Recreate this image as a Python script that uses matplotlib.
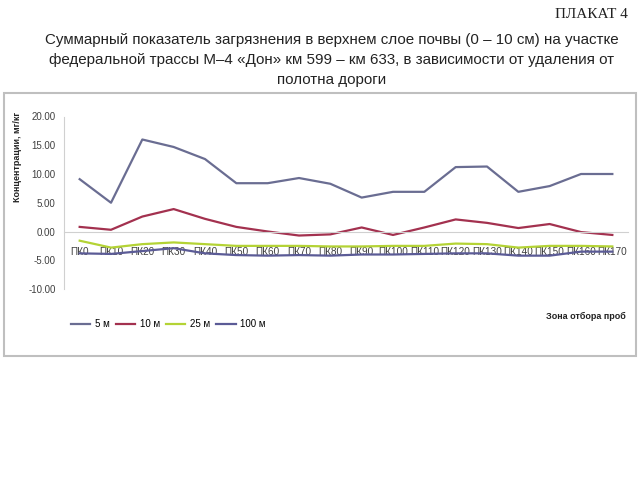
import matplotlib
matplotlib.use("Agg")
import matplotlib.pyplot as plt
from matplotlib.lines import Line2D
from matplotlib.patches import Rectangle

categories = ["ПК0", "ПК10", "ПК20", "ПК30", "ПК40", "ПК50", "ПК60", "ПК70", "ПК80",
              "ПК90", "ПК100", "ПК110", "ПК120", "ПК130", "ПК140", "ПК150", "ПК160", "ПК170"]
s5 = [9.1, 5.0, 16.0, 14.7, 12.6, 8.4, 8.4, 9.3, 8.3, 5.9, 6.9, 6.9, 11.2, 11.3, 6.9, 7.9, 10.0, 10.0]
s10 = [0.8, 0.3, 2.6, 3.9, 2.2, 0.8, 0.0, -0.7, -0.5, 0.7, -0.6, 0.7, 2.1, 1.5, 0.6, 1.3, -0.1, -0.6]
s25 = [-1.6, -2.8, -2.2, -1.9, -2.2, -2.5, -2.5, -2.5, -2.6, -2.6, -2.5, -2.5, -2.1, -2.2, -2.8, -2.5, -2.5, -2.6]
s100 = [-3.8, -3.9, -3.4, -2.9, -3.8, -4.1, -4.2, -4.1, -4.2, -4.0, -4.0, -3.9, -3.8, -3.8, -4.2, -4.2, -3.5, -3.5]
series_names = ["5 м", "10 м", "25 м", "100 м"]
yticks = [20, 15, 10, 5, 0, -5, -10]

colors = ["#6a6d92", "#a3314f", "#b4d335", "#5b5b96"]
sans = ["Liberation Sans", "DejaVu Sans"]

fig = plt.figure(figsize=(6.4, 4.8), dpi=100)

# title block
fig.text(628/640, 1 - 15/480, "ПЛАКАТ 4", ha="right", va="center",
         family=["Liberation Serif", "DejaVu Serif"], fontsize=11, color="#222222")
title = ("Суммарный показатель загрязнения в верхнем слое почвы (0 – 10 см) на участке\n"
         "федеральной трассы М–4 «Дон» км 599 – км 633, в зависимости от удаления от\n"
         "полотна дороги")
fig.text(332/640, 1 - 60/480, title, ha="center", va="center", family=sans,
         fontsize=10.9, color="#222222", linespacing=1.55)

# chart frame
fig.patches.append(Rectangle((4/640, 1 - 356/480), 632/640, 263/480,
                             transform=fig.transFigure, fill=False,
                             edgecolor="#bfbfbf", linewidth=1.5))

ax = fig.add_axes([64/640, 1 - 289/480, 564/640, 172.5/480])
ax.spines["top"].set_visible(False)
ax.spines["right"].set_visible(False)
ax.spines["bottom"].set_position(("data", 0))
ax.spines["bottom"].set_color("#d0d0d0")
ax.spines["left"].set_color("#d0d0d0")

x = list(range(len(categories)))
for vals, c, n in zip([s5, s10, s25, s100], colors, series_names):
    ax.plot(x, vals, color=c, linewidth=1.6, label=n)

ax.set_xlim(-0.5, len(categories) - 0.5)
ax.set_ylim(-10, 20)
ax.set_yticks(yticks)
ax.set_yticklabels([f"{v:.2f}" for v in yticks], family=sans, fontsize=7, color="#404040")
ax.set_xticks(x)
ax.set_xticklabels(categories, family=sans, fontsize=7.2, color="#404040")
ax.tick_params(axis="x", length=0, pad=11)
ax.tick_params(axis="y", length=0, pad=6)

fig.text(18/640, 1 - 157/480, "Концентрации, мг/кг", rotation=90, ha="center", va="center",
         family=sans, fontsize=6.5, fontweight="bold", color="#222222")

handles = [Line2D([], [], color=c, linewidth=1.6) for c in colors]
fig.legend(handles, series_names, loc="center left", bbox_to_anchor=(62/640, 1 - 324/480),
           ncol=4, frameon=False, prop={"family": sans, "size": 7},
           handlelength=2.0, handletextpad=0.5, columnspacing=0.6)

fig.text(626/640, 1 - 316/480, "Зона отбора проб", ha="right", va="center",
         family=sans, fontsize=6.5, fontweight="bold", color="#222222")

fig.savefig("out.png", dpi=100)
